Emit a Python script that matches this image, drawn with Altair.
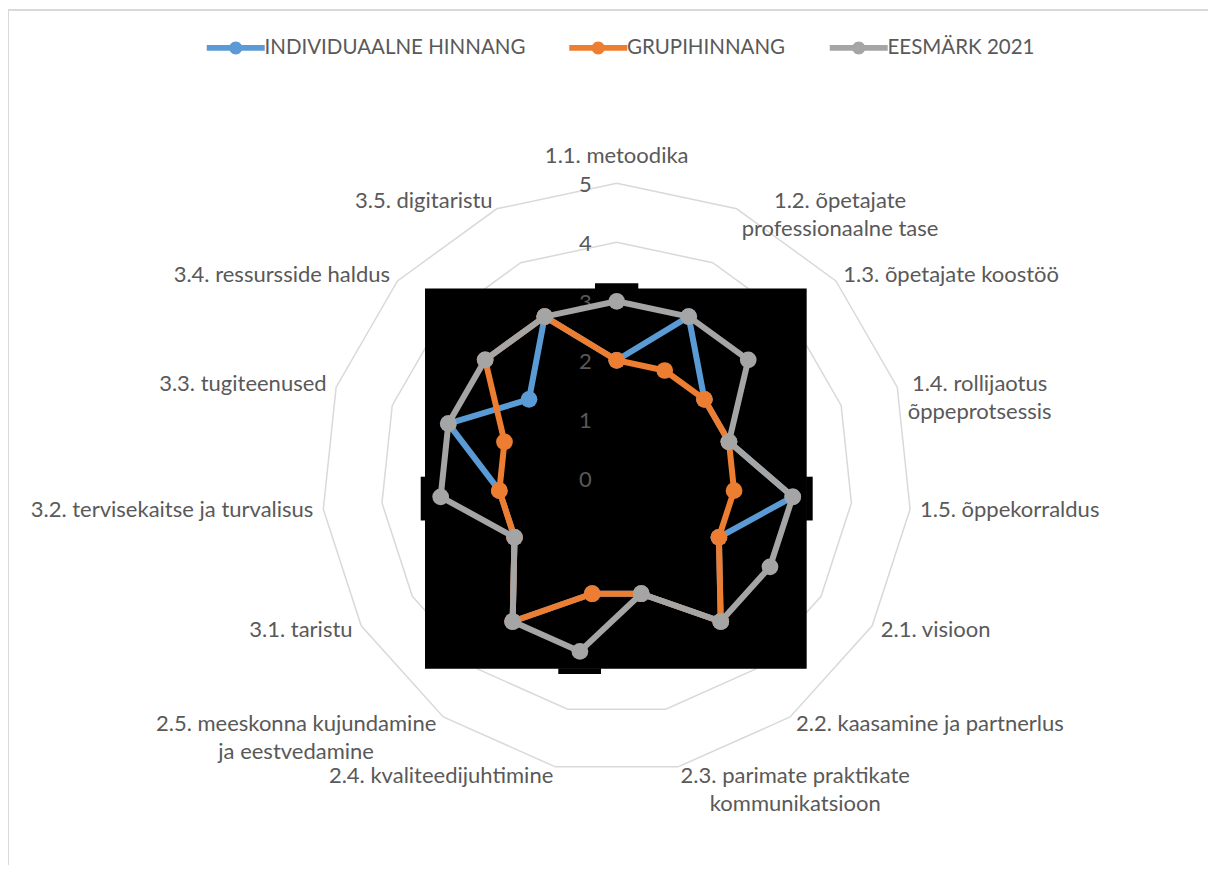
import math
import altair as alt
import pandas as pd

# ---------------- data ----------------
categories = [
    "1.1. metoodika",
    "1.2. õpetajate\nprofessionaalne tase",
    "1.3. õpetajate koostöö",
    "1.4. rollijaotus\nõppeprotsessis",
    "1.5. õppekorraldus",
    "2.1. visioon",
    "2.2. kaasamine ja partnerlus",
    "2.3. parimate praktikate\nkommunikatsioon",
    "2.4. kvaliteedijuhtimine",
    "2.5. meeskonna kujundamine\nja eestvedamine",
    "3.1. taristu",
    "3.2. tervisekaitse ja turvalisus",
    "3.3. tugiteenused",
    "3.4. ressursside haldus",
    "3.5. digitaristu",
]
series_names = ["INDIVIDUAALNE HINNANG", "GRUPIHINNANG", "EESMÄRK 2021"]
individuaalne = [2, 3, 2, 2, 3, 2, 3, 2, 2, 3, 2, 2, 3, 2, 3]
grupihinnang = [2, 2, 2, 2, 2, 2, 3, 2, 2, 3, 2, 2, 2, 3, 3]
eesmark = [3, 3, 3, 2, 3, 3, 3, 2, 3, 3, 2, 3, 3, 3, 3]
tick_values = [0, 1, 2, 3, 4, 5]
series_colors = ["#5B9BD5", "#ED7D31", "#A5A5A5"]

# ---------------- layout (pixels -> data units) ----------------
W, H = 1200, 857
UNIT = 59.0            # pixels per radial unit
CX, CY = 608.7, 470.3  # centre of the radar in plot pixels
xmin, xmax = -CX / UNIT, (W - CX) / UNIT
ymax, ymin = CY / UNIT, -(H - CY) / UNIT
RMAX = 5
FONT = "Lato"
TXT = "#595959"
FS = 22

n = len(categories)
angles = [2 * math.pi * i / n for i in range(n)]

xs = alt.Scale(domain=[xmin, xmax], nice=False, zero=False)
ys = alt.Scale(domain=[ymin, ymax], nice=False, zero=False)


def X(f):
    return alt.X(f, type="quantitative", scale=xs, axis=None)


def Y(f):
    return alt.Y(f, type="quantitative", scale=ys, axis=None)


# ---------------- grid rings ----------------
ring_rows = []
for lvl in range(1, RMAX + 1):
    for i in range(n + 1):
        a = angles[i % n]
        ring_rows.append({"ring": lvl, "idx": i, "x": lvl * math.sin(a), "y": lvl * math.cos(a)})
rings = alt.Chart(pd.DataFrame(ring_rows)).mark_line(color="#D9D9D9", strokeWidth=1.5).encode(
    x=X("x"), y=Y("y"), detail="ring:N", order="idx:Q"
)

# ---------------- black backdrop (rendering artefact of the original) ----------------
blk = pd.DataFrame([
    {"x": -3.249, "x2": 3.220, "y": -3.227, "y2": 3.217},
    {"x": -0.368, "x2": 0.366, "y": 3.210, "y2": 3.305},
    {"x": 3.210, "x2": 3.322, "y": -0.715, "y2": 0.027},
    {"x": -3.322, "x2": -3.240, "y": -0.715, "y2": 0.027},
    {"x": -0.990, "x2": -0.266, "y": -3.317, "y2": -3.220},
])
backdrop = alt.Chart(blk).mark_rect(color="black").encode(
    x=X("x"), x2=alt.X2("x2"), y=Y("y"), y2=alt.Y2("y2")
)

# ---------------- tick labels ----------------
tick_df = pd.DataFrame({"x": [0.0] * len(tick_values), "y": tick_values, "t": [str(v) for v in tick_values]})
tick_labels = alt.Chart(tick_df).mark_text(
    align="right", baseline="middle", dx=-25, dy=2, font=FONT, fontSize=FS, color=TXT
).encode(x=X("x"), y=Y("y"), text="t:N")

# ---------------- category labels ----------------
CW = {" ": 0.193, ".": 0.22, "a": 0.51, "c": 0.45, "d": 0.57, "e": 0.53, "f": 0.33, "g": 0.51,
      "h": 0.57, "i": 0.25, "j": 0.25, "k": 0.52, "l": 0.25, "m": 0.86, "n": 0.57, "o": 0.57,
      "p": 0.57, "r": 0.38, "s": 0.43, "t": 0.36, "u": 0.57, "v": 0.52, "õ": 0.57, "ö": 0.57}


def text_w(s):
    return FS * sum(0.58 if ch.isdigit() else CW.get(ch, 0.5) for ch in s)


lab_rows = {"left": [], "right": [], "center": []}
for c, a in zip(categories, angles):
    s, co = math.sin(a), math.cos(a)
    vx, vy = RMAX * s, RMAX * co
    gx, gy = 10 * s / UNIT, 9 * co / UNIT
    lines = c.split("\n")
    if abs(s) < 1e-9:
        lab_rows["center"].append({"x": 0.0, "y": RMAX + 27.6 / UNIT, "t": c})
    elif len(lines) > 1:
        w = max(text_w(l) for l in lines) / 2 / UNIT
        lab_rows["center"].append({"x": vx + gx + (w if s > 0 else -w), "y": vy + gy, "t": c})
    elif s > 0:
        lab_rows["left"].append({"x": vx + gx, "y": vy + gy, "t": c})
    else:
        lab_rows["right"].append({"x": vx + gx, "y": vy + gy, "t": c})

label_layers = []
for al, rows in lab_rows.items():
    label_layers.append(
        alt.Chart(pd.DataFrame(rows)).mark_text(
            align=al, baseline="middle", font=FONT, fontSize=FS, color=TXT,
            lineBreak="\n", lineHeight=28
        ).encode(x=X("x"), y=Y("y"), text="t:N")
    )

# ---------------- series ----------------
legend_symbol = "M-4.46,-0.46H4.46V0.46H-4.46Z M0,-1A1,1 0 1,1 0,1A1,1 0 1,1 0,-1Z"
color_scale = alt.Scale(domain=series_names, range=series_colors)
series_layers = []
for name, vals, col in zip(series_names, [individuaalne, grupihinnang, eesmark], series_colors):
    rows = []
    for i in range(n + 1):
        a = angles[i % n]
        v = vals[i % n]
        rows.append({"series": name, "idx": i, "x": v * math.sin(a), "y": v * math.cos(a)})
    df = pd.DataFrame(rows)
    line = alt.Chart(df).mark_line(color=col, strokeWidth=6, strokeJoin="round").encode(
        x=X("x"), y=Y("y"), order="idx:Q"
    )
    pts = alt.Chart(df[df["idx"] < n]).mark_point(filled=True, size=280, opacity=1).encode(
        x=X("x"), y=Y("y"),
        color=alt.Color(
            "series:N", scale=color_scale, sort=series_names,
            legend=alt.Legend(
                title=None, orient="none", legendX=217.5, legendY=29.5, direction="horizontal",
                symbolType=legend_symbol, symbolSize=169, symbolStrokeWidth=0, symbolOpacity=1,
                labelFont=FONT, labelFontSize=20.5, labelColor=TXT, labelOffset=18.5,
                columnPadding=43.5, padding=0, labelLimit=400,
            ),
        ),
    )
    series_layers += [line, pts]

# ---------------- chart frame ----------------
frame_left = alt.Chart(pd.DataFrame({"a": [0]})).mark_rule(color="#D9D9D9", strokeWidth=2).encode(
    x=alt.value(0), y=alt.value(2), y2=alt.value(H)
)
frame_top = alt.Chart(pd.DataFrame({"a": [0]})).mark_rule(color="#D9D9D9", strokeWidth=2).encode(
    x=alt.value(0), x2=alt.value(W), y=alt.value(2)
)

chart = alt.layer(
    frame_left, frame_top, rings, backdrop, tick_labels, *label_layers, *series_layers
).properties(
    width=W, height=H, autosize=alt.AutoSizeParams(type="none"), padding=0, background="white"
).configure_view(strokeWidth=0)

chart.save("out.html", embed_options={"renderer": "svg", "actions": False})
